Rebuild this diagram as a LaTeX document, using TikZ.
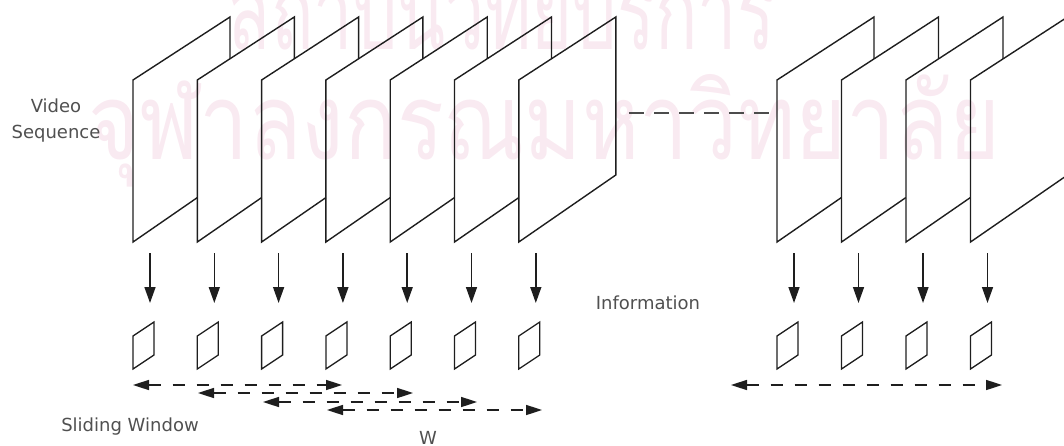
\documentclass[tikz,border=0pt]{standalone}
\usepackage{fontspec}
\setmainfont{DejaVu Sans}
\newfontfamily\thaifont[Script=Thai]{Loma}
\usetikzlibrary{arrows.meta}
\definecolor{wmark}{RGB}{249,234,241}
\definecolor{ink}{RGB}{30,30,30}
\definecolor{labelgray}{RGB}{80,80,80}

\begin{document}
\begin{tikzpicture}[x=1pt,y=-1pt,
  edge/.style={line width=1.4pt, draw=ink, line join=miter},
  flow/.style={line width=1.5pt, draw=ink, -{Triangle[length=16pt,width=11pt]}},
  window/.style={line width=1.6pt, draw=ink, dash pattern=on 12pt off 12pt,
    {Triangle[length=16pt,width=10pt]}-{Triangle[length=16pt,width=10pt]}},
  gapline/.style={line width=2.4pt, draw=black!70, dash pattern=on 15pt off 10pt},
  label/.style={text=labelgray, font=\fontsize{18}{26}\selectfont, inner sep=0pt, align=center},
  watermark/.style={text=wmark, inner sep=0pt, anchor=base west},
  % a frame that is fully visible (last of its run)
  pics/fullframe/.style={code={
     \draw[edge] (0,162) -- (0,0) -- (97,-63) -- (97,95) -- cycle;
     \coordinate (-w) at (0,33); \coordinate (-e) at (97,33);
     \coordinate (-src) at (17,173);}},
  % a frame partly hidden by the next one in the run
  pics/backframe/.style={code={
     \draw[edge] (64.3,117.6) -- (0,162) -- (0,0) -- (97,-63) -- (97,-21.2);
     \coordinate (-w) at (0,33);
     \coordinate (-src) at (17,173);}},
  % small extracted-information frame
  pics/thumb/.style={code={
     \draw[edge, line width=1.3pt] (0,0) -- (21,-14) -- (21,19) -- (0,33) -- cycle;
     \coordinate (-dst) at (17,-33);}},
]
\useasboundingbox (0,0) rectangle (1064,446);
\clip (0,0) rectangle (1064,446);

% background stamp
\node[watermark] (wm1) at (228,50)
  {\resizebox{547pt}{\height}{\fontsize{106pt}{110pt}\selectfont\thaifont สถาบันวิทยบริการ}};
\node[watermark] (wm2) at (88,160)
  {\resizebox{912pt}{\height}{\fontsize{106pt}{110pt}\selectfont\thaifont จุฬาลงกรณมหาวิทยาลัย}};

% first run of frames
\foreach \i in {1,...,6} {
  \pic (fr\i) at ({133+64.3*(\i-1)},80) {backframe};
}
\pic (fr7) at ({133+64.3*6},80) {fullframe};

% second run of frames
\foreach \i/\x in {8/777,9/841.5,10/906} {
  \pic (fr\i) at (\x,80) {backframe};
}
\pic (fr11) at (970.5,80) {fullframe};

% gap between the two runs
\draw[gapline, shorten <=13pt] (fr7-e) -- (fr8-w);

% information thumbnails and extraction arrows
\foreach \i in {1,...,7} {
  \pic (th\i) at ({133+64.3*(\i-1)},336) {thumb};
}
\foreach \i/\x in {8/777,9/841.5,10/906,11/970.5} {
  \pic (th\i) at (\x,336) {thumb};
}
\foreach \i in {1,...,11} {
  \draw[flow] (fr\i-src) -- (th\i-dst);
}

% sliding windows
\coordinate (w1a) at (133,385); \coordinate (w1b) at (342,385);
\coordinate (w2a) at (198,393); \coordinate (w2b) at (413,393);
\coordinate (w3a) at (263,402); \coordinate (w3b) at (477,402);
\coordinate (w4a) at (327,410); \coordinate (w4b) at (542,410);
\coordinate (w5a) at (731,385); \coordinate (w5b) at (1002,385);
\foreach \k in {1,...,5} {
  \draw[window] (w\k a) -- (w\k b);
}

% labels
\node[label] (video) at (56,121) {Video\\Sequence};
\node[label] (info) at (648,303) {Information};
\node[label] (slide) at (130,427) {Sliding Window};
\node[label, anchor=north] (wsize) at (428,431) {W};
\end{tikzpicture}
\end{document}
